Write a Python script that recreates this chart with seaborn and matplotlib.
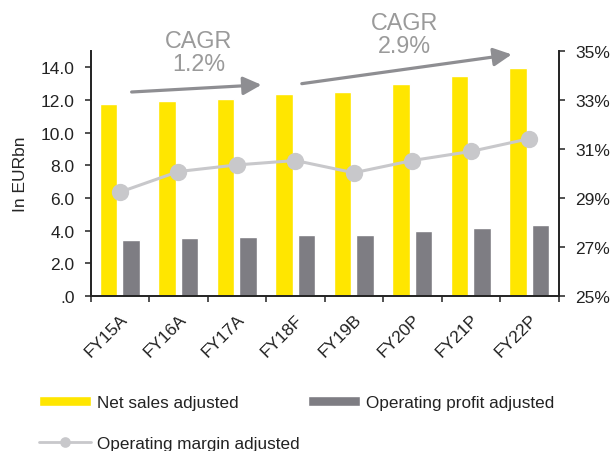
import numpy as np
import pandas as pd
import matplotlib
matplotlib.use("Agg")
import matplotlib.pyplot as plt
import seaborn as sns

# Fiscal years and figures (EUR bn, margin in %)
years = ["FY15A", "FY16A", "FY17A", "FY18F", "FY19B", "FY20P", "FY21P", "FY22P"]
net_sales = [11.77, 11.93, 12.07, 12.36, 12.52, 13.00, 13.47, 13.96]
operating_profit = [3.42, 3.54, 3.62, 3.74, 3.74, 3.95, 4.14, 4.34]
operating_margin = [29.24, 30.08, 30.35, 30.53, 30.03, 30.53, 30.90, 31.42]

series_names = ["Net sales adjusted", "Operating profit adjusted", "Operating margin adjusted"]
left_ticks = [0, 2, 4, 6, 8, 10, 12, 14]
left_tick_labels = [".0", "2.0", "4.0", "6.0", "8.0", "10.0", "12.0", "14.0"]
right_ticks = [25, 27, 29, 31, 33, 35]
right_tick_labels = ["25%", "27%", "29%", "31%", "33%", "35%"]
cagr_labels = ["CAGR\n1.2%", "CAGR\n2.9%"]

YELLOW = "#FFE600"
GRAY = "#7E7D83"
LINE = "#C8C8CB"
ARROW = "#8E8E92"
CAGR_TXT = "#9A9A9A"
INK = "#222222"

sns.set_theme(style="white")
plt.rcParams["font.family"] = ["Liberation Sans", "DejaVu Sans"]
plt.rcParams["text.color"] = INK
plt.rcParams["xtick.color"] = INK
plt.rcParams["ytick.color"] = INK

W, H = 614, 452
fig = plt.figure(figsize=(W / 100, H / 100), dpi=100)
ax = fig.add_axes([90.7 / W, 1 - 297 / H, (558.5 - 90.7) / W, (297 - 52) / H])

bars = pd.DataFrame({
    "year": years * 2,
    "value": net_sales + operating_profit,
    "series": [series_names[0]] * len(years) + [series_names[1]] * len(years),
})
sns.barplot(data=bars, x="year", y="value", hue="series", palette=[YELLOW, GRAY],
            saturation=1, width=0.77, gap=0.22, ax=ax)

ax2 = ax.twinx()
sns.pointplot(x=years, y=operating_margin, color=LINE, markers="o", errorbar=None,
              markersize=10.8, linewidth=2.2, ax=ax2)
margin_line = ax2.lines[0]
margin_line.set_label(series_names[2])

# Axis ranges and ticks
ax.set_ylim(0, 15)
ax2.set_ylim(25, 35)
ax.set_xlim(-0.5, len(years) - 0.5)
ax.set_xticks(np.arange(-0.5, len(years), 1.0))
ax.set_xticklabels([])
ax.set_xticks(np.arange(len(years)), minor=True)
ax.set_xticklabels(years, minor=True, rotation=45, ha="right", rotation_mode="anchor",
                   fontsize=12.5)
ax.tick_params(axis="x", which="major", direction="out", length=4.5, width=1.1,
               bottom=True, color=INK)
ax.tick_params(axis="x", which="minor", length=0, pad=11, bottom=True)

ax.set_yticks(left_ticks)
ax.set_yticklabels(left_tick_labels, fontsize=12.5)
ax.tick_params(axis="y", direction="out", length=4.5, width=1.1, pad=7, left=True,
               color=INK)
ax2.set_yticks(right_ticks)
ax2.set_yticklabels(right_tick_labels, fontsize=12.5)
ax2.tick_params(axis="y", direction="out", length=4.5, width=1.1, pad=7.5, right=True,
                color=INK)

ax.set_xlabel("")
ax.set_ylabel("In EURbn", fontsize=12.5)
ax.yaxis.set_label_coords(-0.135, 0.5)
ax2.set_ylabel("")

for s in ["top", "right"]:
    ax.spines[s].set_visible(False)
for s in ["top", "left", "bottom"]:
    ax2.spines[s].set_visible(False)
for a, s in [(ax, "left"), (ax, "bottom"), (ax2, "right")]:
    a.spines[s].set_color(INK)
    a.spines[s].set_linewidth(1.4)

# CAGR arrows and labels
arrow_style = dict(arrowstyle="-|>,head_length=1.1,head_width=0.55", color=ARROW,
                   lw=2.3, mutation_scale=10, shrinkA=0, shrinkB=0)
ax.annotate("", xy=(2.42, 12.93), xytext=(0.20, 12.49), arrowprops=arrow_style,
            annotation_clip=False)
ax.annotate("", xy=(6.70, 14.79), xytext=(3.11, 13.00), arrowprops=arrow_style,
            annotation_clip=False)
ax.text(1.35, 14.95, cagr_labels[0], ha="center", va="center", fontsize=16.8,
        color=CAGR_TXT, linespacing=1.0, clip_on=False)
ax.text(4.87, 16.05, cagr_labels[1], ha="center", va="center", fontsize=16.8,
        color=CAGR_TXT, linespacing=1.0, clip_on=False)

# Legend below the chart
handles, labels = ax.get_legend_handles_labels()
if ax.get_legend() is not None:
    ax.get_legend().remove()
if ax2.get_legend() is not None:
    ax2.get_legend().remove()
handles = handles[:2] + [margin_line]
labels = labels[:2] + [series_names[2]]
order = [0, 2, 1]
leg = fig.legend([handles[i] for i in order], [labels[i] for i in order],
                 loc="upper left", bbox_to_anchor=(39 / W, 1 - 396 / H), ncol=2,
                 frameon=False, fontsize=12.3, handlelength=3.06, handleheight=0.6,
                 handletextpad=0.35, columnspacing=0.45, labelspacing=1.5,
                 borderpad=0, borderaxespad=0)
for h in leg.legend_handles:
    if hasattr(h, "set_markersize"):
        h.set_markersize(6)
        h.set_linewidth(2)

fig.savefig("out.png", dpi=100)
